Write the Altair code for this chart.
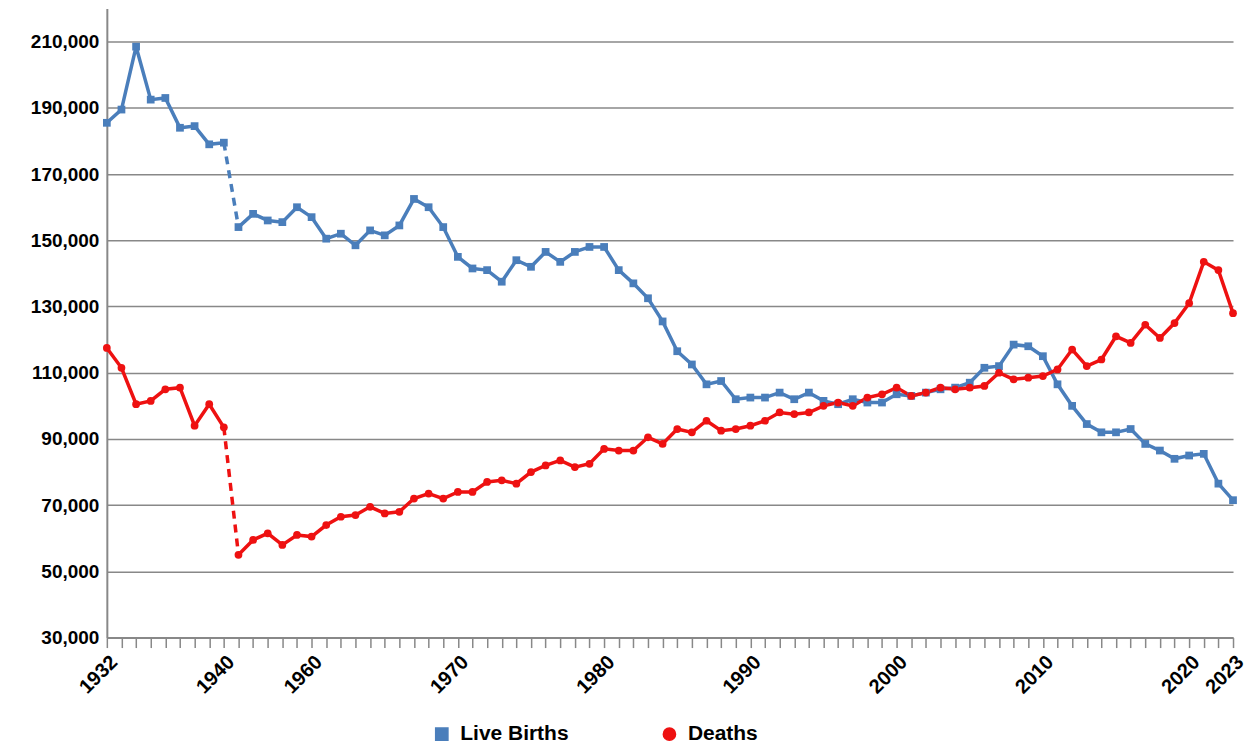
import altair as alt
import pandas as pd

years = list(range(1932, 1941)) + list(range(1955, 2024))

births = [185.5, 189.5, 208.5, 192.5, 193, 184, 184.5, 179, 179.5,
          154, 158, 156, 155.5, 160, 157, 150.5, 152, 148.5, 153, 151.5, 154.5, 162.5, 160, 154,
          145, 141.5, 141, 137.5, 144, 142, 146.5, 143.5, 146.5, 148,
          148, 141, 137, 132.5, 125.5, 116.5, 112.5, 106.5, 107.5, 102,
          102.5, 102.5, 104, 102, 104, 101.5, 100.5, 102, 101, 101,
          103.5, 103, 104, 105, 105.5, 107, 111.5, 112, 118.5, 118,
          115, 106.5, 100, 94.5, 92, 92, 93, 88.5, 86.5, 84,
          85, 85.5, 76.5, 71.5]

deaths = [117.5, 111.5, 100.5, 101.5, 105, 105.5, 94, 100.5, 93.5,
          55, 59.5, 61.5, 58, 61, 60.5, 64, 66.5, 67, 69.5, 67.5, 68, 72, 73.5, 72,
          74, 74, 77, 77.5, 76.5, 80, 82, 83.5, 81.5, 82.5,
          87, 86.5, 86.5, 90.5, 88.5, 93, 92, 95.5, 92.5, 93,
          94, 95.5, 98, 97.5, 98, 100, 101, 100, 102.5, 103.5,
          105.5, 103, 104, 105.5, 105, 105.5, 106, 110, 108, 108.5,
          109, 111, 117, 112, 114, 121, 119, 124.5, 120.5, 125,
          131, 143.5, 141, 128]

label_years = [1932, 1940, 1960, 1970, 1980, 1990, 2000, 2010, 2020, 2023]

rows = []
for i, y in enumerate(years):
    seg = 0 if y <= 1940 else 1
    rows.append({"idx": i, "year": y, "series": "Live Births", "value": births[i] * 1000, "seg": seg})
    rows.append({"idx": i, "year": y, "series": "Deaths", "value": deaths[i] * 1000, "seg": seg})
df = pd.DataFrame(rows)
gap = df[df["year"].isin([1940, 1955])]

label_map = "{" + ",".join(f"'{years.index(y)}':'{y}'" for y in label_years) + "}"

color = alt.Color("series:N", scale=alt.Scale(domain=["Live Births", "Deaths"], range=["#4a7ebb", "#ee1111"]),
                  legend=alt.Legend(title=None, orient="none", legendX=325, legendY=716, direction="horizontal",
                                    labelFontSize=21, labelFont="Liberation Sans",
                                    labelFontWeight="bold", labelColor="black", symbolSize=150,
                                    columnPadding=90, labelOffset=8))
shape = alt.Shape("series:N", scale=alt.Scale(domain=["Live Births", "Deaths"], range=["square", "circle"]),
                  legend=alt.Legend(title=None))

x = alt.X("idx:Q", scale=alt.Scale(domain=[0, len(years) - 1], nice=False, zero=False),
          axis=alt.Axis(values=list(range(len(years))), grid=False, title=None,
                        labelExpr=f"{label_map}[datum.value] || ''", labelAngle=-45,
                        labelAlign="right", labelBaseline="top", labelPadding=4,
                        labelFontSize=20, labelFontWeight="bold", labelFont="Liberation Sans",
                        labelColor="black", tickSize=10, tickWidth=1.5, tickColor="#888",
                        domainColor="#888", domainWidth=2, labelOverlap=False,
                        labelBound=False, labelFlush=False))
y = alt.Y("value:Q", scale=alt.Scale(domain=[30000, 220000], nice=False, zero=False),
          axis=alt.Axis(values=list(range(30000, 220001, 20000)), format=",.0f", title=None,
                        labelFontSize=19, labelFontWeight="bold", labelFont="Liberation Sans",
                        labelColor="black", gridColor="#888", gridWidth=1.5, domainColor="#888",
                        domainWidth=2, ticks=False, labelPadding=8))

base = alt.Chart(df).encode(x=x, y=y, color=color)
lines = base.mark_line(strokeWidth=3.5).encode(detail="seg:N")
points = base.mark_point(filled=True, size=60, opacity=1).encode(shape=shape)
dashed = alt.Chart(gap).mark_line(strokeWidth=3.5, strokeDash=[8, 6]).encode(x=x, y=y, color=color, detail="series:N")

chart = alt.layer(dashed, lines, points).properties(
    width=1128, height=630, autosize=alt.AutoSizeParams(type="none"),
    padding={"left": 99, "top": 0, "right": 12, "bottom": 108}
).configure_view(stroke=None)

chart.save("out.html", embed_options={"renderer": "svg", "actions": False})
